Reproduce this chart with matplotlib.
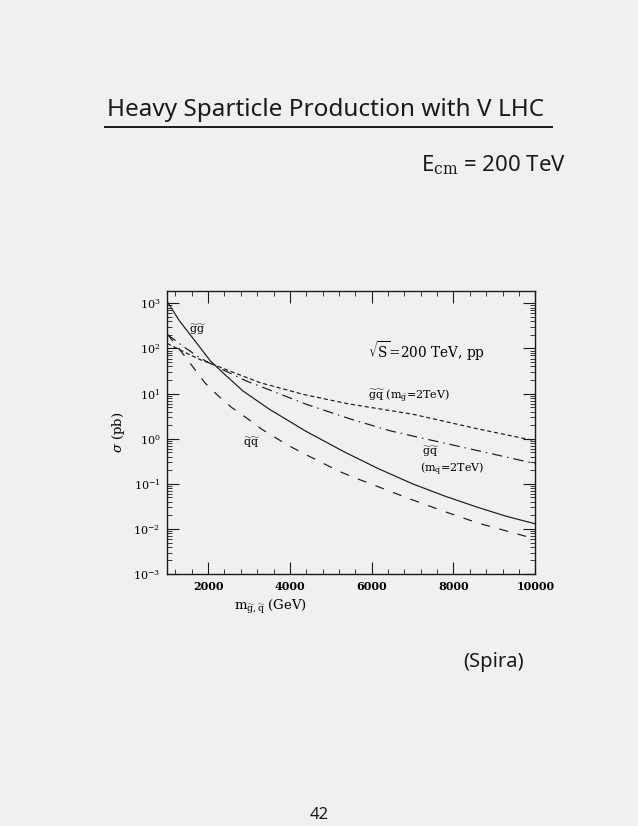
import matplotlib
matplotlib.use("Agg")
import matplotlib.pyplot as plt
from matplotlib.lines import Line2D
from matplotlib.ticker import LogLocator, MultipleLocator, NullFormatter

plt.rcParams["font.family"] = ["DejaVu Serif"]
plt.rcParams["mathtext.fontset"] = "dejavuserif"
plt.rcParams["lines.scale_dashes"] = False

# --- values --- #
mass_gg = [1000, 1300, 1650, 2050, 2400, 2850, 3500, 4400, 5350, 6150, 7000, 7800, 8600, 9300, 10000]
sigma_gg = [1100, 410, 160, 54, 27, 11.5, 4.5, 1.45, 0.50, 0.22, 0.10, 0.053, 0.030, 0.019, 0.013]

mass_qq = [1000, 1250, 1475, 1640, 1920, 2250, 2580, 2940, 3310, 3600, 4000, 4400, 4800, 5200,
           5600, 6150, 7000, 7800, 8600, 9400, 10000]
sigma_qq = [210, 110, 60, 38, 17.5, 8.9, 4.9, 2.9, 1.63, 1.12, 0.68, 0.44, 0.29, 0.19,
            0.135, 0.087, 0.044, 0.024, 0.0135, 0.0085, 0.006]

mass_gq_mg2 = [1000, 1400, 1800, 2130, 2600, 3270, 4330, 5400, 7000, 8600, 10000]
sigma_gq_mg2 = [130, 85, 57, 44, 30, 17.5, 9.6, 6.0, 3.5, 1.65, 0.9]

mass_gq_mq2 = [1000, 1400, 1800, 2170, 2940, 3510, 4400, 5500, 6450, 7000, 8000, 9000, 10000]
sigma_gq_mq2 = [205, 110, 62, 41, 19, 12.0, 5.8, 2.7, 1.5, 1.15, 0.72, 0.45, 0.28]

paper = "#f0f0f0"
ink = "#1a1a1a"

fig = plt.figure(figsize=(6.38, 8.26), dpi=100, facecolor=paper)
ax = fig.add_axes([0.262, 0.305, 0.577, 0.343])
ax.set_facecolor(paper)

ax.plot(mass_gg, sigma_gg, color=ink, lw=0.85, linestyle="-")
ax.plot(mass_qq, sigma_qq, color=ink, lw=0.85, linestyle=(0, (6.5, 7.0)))
ax.plot(mass_gq_mg2, sigma_gq_mg2, color=ink, lw=0.85, linestyle=(0, (3.0, 2.0)))
ax.plot(mass_gq_mq2, sigma_gq_mq2, color=ink, lw=0.85, linestyle=(0, (7.5, 3.6, 1.0, 3.6)))

ax.set_yscale("log")
ax.set_xlim(1000, 10000)
ax.set_ylim(1e-3, 10 ** 3.28)

ax.xaxis.set_major_locator(MultipleLocator(2000))
ax.xaxis.set_minor_locator(MultipleLocator(400))
ax.yaxis.set_major_locator(LogLocator(base=10, numticks=10))
ax.yaxis.set_minor_locator(LogLocator(base=10, subs=range(2, 10), numticks=20))
ax.yaxis.set_minor_formatter(NullFormatter())

ax.tick_params(which="both", direction="in", top=True, right=True, color=ink)
ax.tick_params(which="major", length=8.5, width=0.8, labelsize=8, pad=5)
ax.tick_params(which="minor", length=3.5, width=0.6)
for lab in ax.get_xticklabels():
    lab.set_fontweight("bold")
for sp in ax.spines.values():
    sp.set_linewidth(1.0)
    sp.set_color(ink)

gg = r"\widetilde{\mathrm{g}}"
qq = r"\widetilde{\mathrm{q}}"

ax.set_xlabel(rf"m$_{{{gg},{qq}}}$ (GeV)", fontsize=9.5)
ax.xaxis.set_label_coords(0.28, -0.085)
ax.set_ylabel(r"$\sigma$ (pb)", fontsize=9.5, labelpad=4)

# curve labels
ax.text(1750, 265, rf"${gg}{gg}$", fontsize=8, ha="center", va="center")
ax.text(3050, 0.81, rf"${qq}{qq}$", fontsize=8, ha="center", va="center")
ax.text(5900, 86, r"$\sqrt{\mathrm{S}}$=200 TeV, pp", fontsize=9.8, ha="left", va="center")
ax.text(5900, 8.5, rf"${gg}{qq}$ (m$_{{{gg}}}$=2TeV)", fontsize=8, ha="left", va="center")
ax.text(7230, 0.51, rf"${gg}{qq}$", fontsize=8, ha="left", va="center")
ax.text(7180, 0.21, rf"(m$_{{{qq}}}$=2TeV)", fontsize=8, ha="left", va="center")

# handwritten page annotations
hand = ["Noto Sans", "DejaVu Sans"]
fig.text(0.511, 0.867, "Heavy Sparticle Production with V LHC", fontsize=17.5,
         family=hand, ha="center", va="center", color=ink)
fig.add_artist(Line2D([0.165, 0.865], [0.846, 0.846], color=ink, lw=1.4))
fig.text(0.773, 0.800, r"E$_{\mathrm{cm}}$ = 200 TeV", fontsize=16,
         family=hand, ha="center", va="center", color=ink)
fig.text(0.774, 0.199, "(Spira)", fontsize=14.5, family=hand, ha="center",
         va="center", color=ink)
fig.text(0.5, 0.013, "42", fontsize=12, family=hand, ha="center", va="center", color=ink)

fig.savefig("out.png", dpi=100, facecolor=paper)
